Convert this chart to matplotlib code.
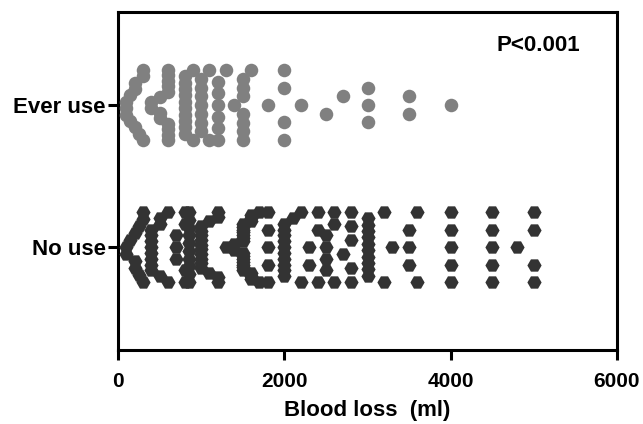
import numpy as np
import matplotlib.pyplot as plt

plt.rcParams['font.family'] = ['Liberation Sans', 'DejaVu Sans']
plt.rcParams['font.weight'] = 'bold'
plt.rcParams['axes.labelweight'] = 'bold'

groups = ["No use", "Ever use"]

# blood loss (ml) and number of patients at each value
no_use_ml = [100, 150, 200, 250, 300, 400, 500, 600, 700, 800, 850,
             1000, 1100, 1200, 1300, 1400, 1500, 1600, 1700, 1800,
             2000, 2100, 2200, 2300, 2400, 2500, 2600, 2700, 2800,
             3000, 3200, 3300, 3500, 3600, 4000, 4500, 4800, 5000]
no_use_n = [2, 1, 3, 2, 3, 8, 3, 2, 3, 4, 10,
            10, 2, 4, 1, 2, 14, 6, 2, 5,
            10, 1, 2, 2, 3, 4, 3, 1, 5,
            10, 2, 1, 3, 2, 5, 5, 1, 4]

ever_use_ml = [100, 150, 200, 250, 300, 400, 500, 600, 800, 900,
               1000, 1100, 1200, 1300, 1400, 1500, 1600, 1800, 2000,
               2200, 2500, 2700, 3000, 3500, 4000]
ever_use_n = [3, 2, 3, 1, 3, 2, 3, 9, 10, 2,
              7, 2, 6, 1, 1, 7, 1, 1, 4,
              1, 1, 1, 3, 2, 1]

# bin edges used to spread points sideways (like prism scatter plots)
no_use_edges = [350, 650, 825, 950, 1250, 1750, 1950, 2250, 2450, 2650,
                2900, 3250, 3400, 3750, 4250, 4650]
ever_use_edges = [350, 700, 950, 1150, 1350, 1750, 2100, 2350, 2850,
                  3250, 3750]


def spread(ml, n, edges, slot=0.123, half=0.2465):
    vals = np.sort(np.repeat(ml, n).astype(float))
    which = np.digitize(vals, edges)
    offs = np.zeros_like(vals)
    for b in np.unique(which):
        idx = np.where(which == b)[0]
        k = len(idx)
        if k == 1:
            continue
        step = min(slot, 2 * half / (k - 1))
        pos = (np.arange(k) - (k - 1) / 2) * step
        order = sorted(range(k), key=lambda i: (round(abs(pos[i]), 6), pos[i]))
        offs[idx] = pos[order]
    return vals, offs


fig = plt.figure(figsize=(6.43, 4.24), dpi=100)
ax = fig.add_axes([118 / 643, 1 - 350 / 424, 499 / 643, 338 / 424])

x0, d0 = spread(no_use_ml, no_use_n, no_use_edges)
x1, d1 = spread(ever_use_ml, ever_use_n, ever_use_edges)
ax.scatter(x0, 0 + d0, marker='H', s=105, color='#333333', linewidths=0, zorder=3)
ax.scatter(x1, 1 + d1, marker='o', s=95, color='#808080', linewidths=0, zorder=3)

ax.set_xlim(0, 6000)
ax.set_ylim(-0.725, 1.655)
ax.set_xticks([0, 2000, 4000, 6000])
ax.set_yticks([0, 1])
ax.set_yticklabels(groups)
ax.tick_params(axis='both', direction='out', length=7, width=2.2, labelsize=15, pad=2)
ax.tick_params(axis='y', labelsize=16)
ax.tick_params(axis='x', pad=9)
for sp in ax.spines.values():
    sp.set_linewidth(2.2)
ax.set_xlabel("Blood loss  (ml)", fontsize=16, labelpad=6)
ax.text(0.926, 0.902, "P<0.001", transform=ax.transAxes, ha='right', va='center', fontsize=16)

fig.savefig("out.png", dpi=100)
